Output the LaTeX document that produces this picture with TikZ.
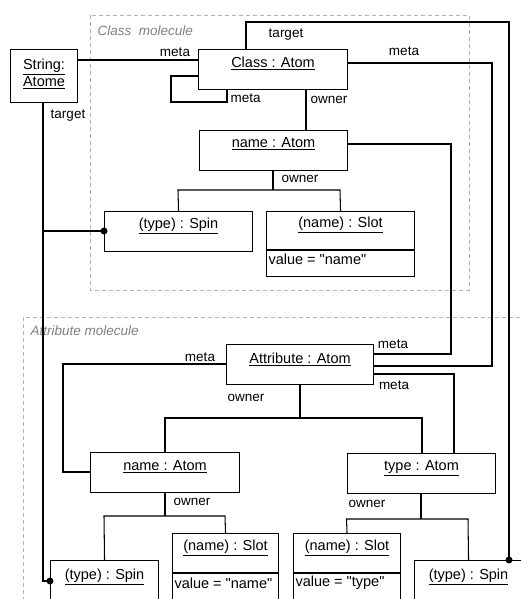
\documentclass[tikz,border=0pt]{standalone}
\usepackage{fontspec}
\newfontfamily\lib{Liberation Sans}
\usetikzlibrary{calc}
\begin{document}
\begin{tikzpicture}[x=1pt,y=-1pt, line width=1.05pt,
  box/.style={draw, line width=1.05pt, inner sep=0, anchor=north west},
  ttl/.style={font=\lib\fontsize{14.5}{16.5}\selectfont, inner sep=0},
  lbl/.style={font=\lib\fontsize{13.5}{16}\selectfont, inner sep=0},
  mol/.style={draw=gray!60, dash pattern=on 4pt off 3pt, line width=0.8pt},
  moltxt/.style={font=\lib\fontsize{13.5}{16}\selectfont\itshape, text=gray, inner sep=0, anchor=west},
  dot/.style={circle, fill, inner sep=0, minimum size=7pt}]
\useasboundingbox (0,0) rectangle (521,599);
\clip (0,0) rectangle (521,599);
% molecules
\draw[mol] (90,15) rectangle (469,290);
\node[moltxt] at (97,31) {Class\ \ molecule};
\draw[mol] (23,317) rectangle (540,640);
\node[moltxt] at (30,331) {Attribute molecule};
% boxes
\node[box, minimum width=67pt, minimum height=53pt] (str) at (10,49) {};
\node[ttl, align=center] at ($(str.center)+(0,-2)$) {\underline{String:}\\\underline{Atome}};
\node[box, minimum width=149pt, minimum height=40pt] (cls) at (198,49) {};
\node[ttl] at ($(cls.north)+(0,14)$) {\underline{Class : Atom}};
\node[box, minimum width=148pt, minimum height=40pt] (cname) at (199,130) {};
\node[ttl] at ($(cname.north)+(0,14)$) {\underline{name : Atom}};
\node[box, minimum width=148pt, minimum height=40pt] (cspin) at (104,211) {};
\node[ttl] at ($(cspin.north)+(0,15)$) {\underline{(type) : Spin}};
\node[box, minimum width=148pt, minimum height=65pt] (cslot) at (266,211) {};
\draw ($(cslot.north west)+(0,39)$) -- ($(cslot.north east)+(0,39)$);
\node[ttl] at ($(cslot.north)+(0,14)$) {\underline{(name) : Slot}};
\node[ttl, anchor=west] at ($(cslot.north west)+(2,48)$) {value = "name"};
\node[box, minimum width=147pt, minimum height=40pt] (attr) at (226,344) {};
\node[ttl] at ($(attr.north)+(0,15)$) {\underline{Attribute : Atom}};
\node[box, minimum width=149pt, minimum height=40pt] (aname) at (90,452) {};
\node[ttl] at ($(aname.north)+(0,15)$) {\underline{name : Atom}};
\node[box, minimum width=148pt, minimum height=40pt] (atype) at (347,453) {};
\node[ttl] at ($(atype.north)+(0,15)$) {\underline{type : Atom}};
\node[box, minimum width=108pt, minimum height=80pt] (aspin1) at (50,560) {};
\node[ttl] at ($(aspin1.north)+(0,17)$) {\underline{(type) : Spin}};
\node[box, minimum width=106pt, minimum height=100pt] (aslot1) at (172,533) {};
\draw ($(aslot1.north west)+(0,40)$) -- ($(aslot1.north east)+(0,40)$);
\node[ttl] at ($(aslot1.north)+(0,15)$) {\underline{(name) : Slot}};
\node[ttl, anchor=west] at ($(aslot1.north west)+(2,50)$) {value = "name"};
\node[box, minimum width=107pt, minimum height=100pt] (aslot2) at (293,533) {};
\draw ($(aslot2.north west)+(0,40)$) -- ($(aslot2.north east)+(0,40)$);
\node[ttl] at ($(aslot2.north)+(0,15)$) {\underline{(name) : Slot}};
\node[ttl, anchor=west] at ($(aslot2.north west)+(2,50)$) {value = "type"};
\node[box, minimum width=108pt, minimum height=80pt] (aspin2) at (414,560) {};
\node[ttl] at ($(aspin2.north)+(0,17)$) {\underline{(type) : Spin}};
% connectors
\draw (str.east |- 0,60) -- (cls.west |- 0,60);
\node[lbl] at (175,52) {meta};
\draw (cls.west |- 0,76) -- (171,76) -- (171,102) -- (227,102) -- (cls.south -| 227,0);
\node[lbl, anchor=west] at (230,98) {meta};
\draw (cls.north -| 246,0) -- (246,22) -- (509,22) -- (aspin2.north -| 509,0) node[dot]{};
\node[lbl] at (286,35) {target};
\draw (cls.east |- 0,63) -- (492,63) -- (492,366) -- (attr.east |- 0,366);
\node[lbl] at (404,51) {meta};
\draw (cls.south -| 306,0) -- (cname.north -| 306,0);
\node[lbl, anchor=west] at (310,100) {owner};
\draw (cname.east |- 0,144) -- (451,144) -- (451,354) -- (attr.east |- 0,354);
\node[lbl] at (393,344) {meta};
\draw (cname.south -| 273,0) -- (273,190);
\draw (cspin.north) -- (178,190) -- (340,190) -- (cslot.north);
\node[lbl] at (300,179) {owner};
\draw (str.south -| 43,0) -- (43,581) -- (aspin1.west |- 0,581) node[dot]{};
\draw (43,231) -- (cspin.west |- 0,231) node[dot]{};
\node[lbl] at (68,116) {target};
\draw (attr.west |- 0,364) -- (63,364) -- (63,472) -- (aname.west |- 0,472);
\node[lbl] at (200,357) {meta};
\draw (attr.east |- 0,374) -- (454,374) -- (atype.north -| 454,0);
\node[lbl] at (394,385) {meta};
\draw (attr.south -| 300,0) -- (300,418);
\draw (aname.north -| 165,0) -- (165,418) -- (422,418) -- (atype.north -| 422,0);
\node[lbl] at (246,398) {owner};
\draw (aname.south -| 165,0) -- (165,516);
\draw (aspin1.north) -- (104,516) -- (225,516) -- (aslot1.north);
\node[lbl] at (192,502) {owner};
\draw (atype.south -| 421,0) -- (421,519);
\draw (aslot2.north) -- (346.5,519) -- (468,519) -- (aspin2.north);
\node[lbl] at (367,504) {owner};
\end{tikzpicture}
\end{document}
